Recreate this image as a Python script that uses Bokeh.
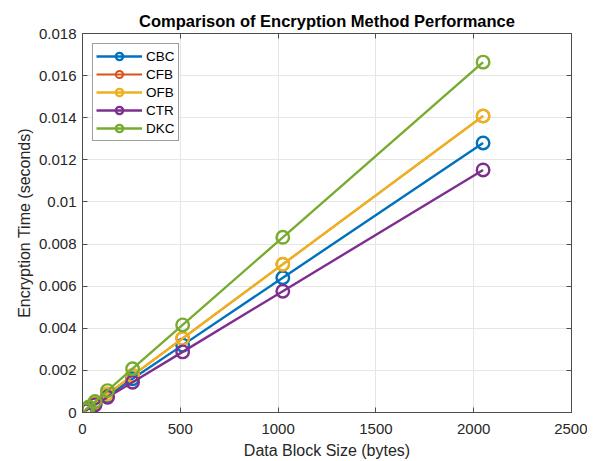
from bokeh.plotting import figure
from bokeh.models import (FixedTicker, CustomJSTickFormatter, LinearAxis, Legend, LegendItem, Range1d)
from bokeh.embed import file_html
from bokeh.resources import INLINE

block_sizes = [16, 32, 64, 128, 256, 512, 1024, 2048]
cbc = [0.0001, 0.0002, 0.0004, 0.0008, 0.0016, 0.0032, 0.0064, 0.0128]
cfb = [0.00011, 0.00022, 0.00044, 0.00088, 0.00176, 0.00352, 0.00704, 0.01408]
ofb = [0.00011, 0.00022, 0.00044, 0.00088, 0.00176, 0.00352, 0.00704, 0.01408]
ctr = [0.00009, 0.00018, 0.00036, 0.00072, 0.00144, 0.00288, 0.00576, 0.01152]
dkc = [0.00013, 0.00026, 0.00052, 0.00104, 0.00208, 0.00416, 0.00832, 0.01664]
series_names = ["CBC", "CFB", "OFB", "CTR", "DKC"]
series_values = [cbc, cfb, ofb, ctr, dkc]
colors = ["#0072BD", "#D95319", "#EDB120", "#7E2F8E", "#77AC30"]
widths = [2.4, 2.0, 2.4, 2.4, 2.4]
x_ticks = [0, 500, 1000, 1500, 2000, 2500]
y_ticks = [0, 0.002, 0.004, 0.006, 0.008, 0.01, 0.012, 0.014, 0.016, 0.018]

FONT = "Liberation Sans"
AX = "#4d4d4d"

p = figure(width=587, height=461, output_backend="svg", toolbar_location=None,
           x_range=Range1d(0, 2500), y_range=Range1d(0, 0.018),
           min_border_left=82, min_border_right=16, min_border_top=33, min_border_bottom=47,
           title="Comparison of Encryption Method Performance")
p.title.text_font = FONT
p.title.text_font_size = "16.5px"
p.title.text_font_style = "bold"
p.title.align = "center"
p.title.text_color = "#000000"
p.title.standoff = 7

p.outline_line_color = AX
p.outline_line_width = 1

for ax in (p.xaxis[0], p.yaxis[0]):
    ax.axis_line_color = AX
    ax.major_tick_line_color = AX
    ax.major_tick_in = 5
    ax.major_tick_out = 0
    ax.minor_tick_line_color = None
    ax.major_label_text_font = FONT
    ax.major_label_text_font_size = "15px"
    ax.major_label_text_color = "#262626"
    ax.axis_label_text_font = FONT
    ax.axis_label_text_font_size = "16px"
    ax.axis_label_text_font_style = "normal"
    ax.axis_label_text_color = "#262626"

p.xaxis.ticker = FixedTicker(ticks=x_ticks)
p.yaxis.ticker = FixedTicker(ticks=y_ticks)
p.yaxis.formatter = CustomJSTickFormatter(code="""
    var s = tick.toFixed(3);
    s = s.replace(/0+$/, '').replace(/\\.$/, '');
    return s;
""")
p.xaxis.axis_label = "Data Block Size (bytes)"
p.yaxis.axis_label = "Encryption Time (seconds)"
p.xaxis.major_label_standoff = 11
p.yaxis.major_label_standoff = 6
p.xaxis.axis_label_standoff = 5
p.yaxis.axis_label_standoff = 3

top_ax = LinearAxis(ticker=FixedTicker(ticks=x_ticks), major_label_text_color=None,
                    major_tick_in=5, major_tick_out=0, minor_tick_line_color=None,
                    axis_line_color=AX, major_tick_line_color=AX, major_label_standoff=0)
right_ax = LinearAxis(ticker=FixedTicker(ticks=y_ticks), major_label_text_color=None,
                      major_tick_in=5, major_tick_out=0, minor_tick_line_color=None,
                      axis_line_color=AX, major_tick_line_color=AX, major_label_standoff=0)
p.add_layout(top_ax, "above")
p.add_layout(right_ax, "right")

p.xgrid.grid_line_color = "#e6e6e6"
p.ygrid.grid_line_color = "#e6e6e6"
p.xgrid.ticker = FixedTicker(ticks=x_ticks)
p.ygrid.ticker = FixedTicker(ticks=y_ticks)

items = []
for name, vals, col, w in zip(series_names, series_values, colors, widths):
    ln = p.line(block_sizes, vals, line_color=col, line_width=w)
    sc = p.scatter(block_sizes, vals, marker="circle", size=12.5, fill_color=None,
                   line_color=col, line_width=w)
    items.append(LegendItem(label=name, renderers=[ln, sc]))

legend = Legend(items=items, location="top_left")
legend.label_text_font = FONT
legend.label_text_font_size = "13.5px"
legend.label_text_color = "#000000"
legend.border_line_color = "#404040"
legend.border_line_width = 1
legend.background_fill_alpha = 1
legend.glyph_width = 46
legend.glyph_height = 18
legend.label_height = 18
legend.spacing = 0
legend.padding = 3
legend.margin = 10
legend.label_standoff = 4
p.add_layout(legend)

open("out.html", "w").write(file_html(p, INLINE))
